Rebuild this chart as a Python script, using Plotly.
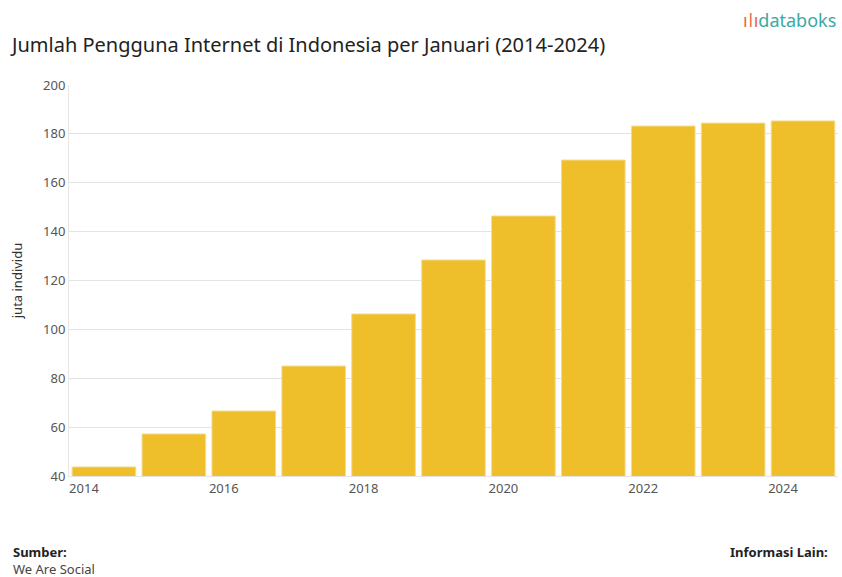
import plotly.graph_objects as go

years = [2014, 2015, 2016, 2017, 2018, 2019, 2020, 2021, 2022, 2023, 2024]
users = [43.7, 57.2, 66.6, 85.0, 106.3, 128.4, 146.4, 169.3, 183.2, 184.4, 185.3]
tick_years = [2014, 2016, 2018, 2020, 2022, 2024]
y_ticks = [40, 60, 80, 100, 120, 140, 160, 180, 200]

FONT = "Noto Sans"
BAR = "#EFBE2B"

fig = go.Figure(go.Bar(
    x=years, y=users, marker=dict(color=BAR, line=dict(color="#F6DC8E", width=1)),
    width=0.91,
))

fig.update_layout(
    width=842, height=577,
    margin=dict(l=69, r=4, t=85, b=101),
    paper_bgcolor="white", plot_bgcolor="white",
    font=dict(family=FONT, color="#555555", size=13),
    showlegend=False,
    title=dict(text="Jumlah Pengguna Internet di Indonesia per Januari (2014-2024)",
               x=12 / 842, xref="container", xanchor="left", y=1 - 45 / 577, yref="container",
               yanchor="middle",
               font=dict(family=FONT, size=20, color="#222222")),
    xaxis=dict(range=[2013.5, 2024.5], tickvals=tick_years, ticktext=[str(t) for t in tick_years],
               ticklabelshift=-20, showgrid=False, zeroline=False,
               showline=True, linecolor="#e6e6e6", ticks="", tickfont=dict(size=13, color="#555555")),
    yaxis=dict(range=[40, 200], tickvals=y_ticks, showgrid=True, gridcolor="#e3e3e3",
               zeroline=False, showline=True, linecolor="#e6e6e6", ticks="",
               tickfont=dict(size=13, color="#555555"),
               title=dict(text="juta individu", font=dict(size=13, color="#333333"), standoff=17)),
)

fig.add_annotation(text="<span style='color:#E8673C'>ıǀı</span>databoks", xref="paper", yref="paper",
                   x=1.0, y=1.0, xanchor="right", yanchor="middle", yshift=-20 + 85,
                   showarrow=False, font=dict(family=FONT, size=18, color="#3AA9A4"))
fig.add_annotation(text="<b>Sumber:</b><br><span style='color:#444444'>We Are Social</span>",
                   xref="paper", yref="paper", x=0, y=0, align="left",
                   xanchor="left", yanchor="middle", xshift=-58, yshift=-(560 - 476),
                   showarrow=False, font=dict(family=FONT, size=13, color="#222222"))
fig.add_annotation(text="<b>Informasi Lain:</b>", xref="paper", yref="paper", x=1, y=0,
                   xanchor="right", yanchor="middle", xshift=-8, yshift=-(552 - 476),
                   showarrow=False, font=dict(family=FONT, size=13, color="#222222"))

fig.write_html("out.html")
